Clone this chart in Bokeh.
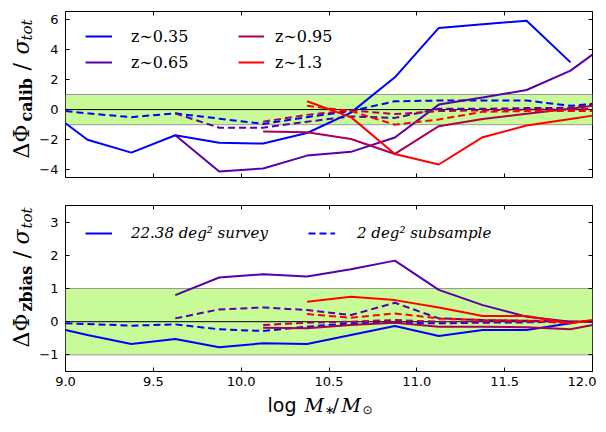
import math
from bokeh.plotting import figure
from bokeh.models import (BoxAnnotation, Span, Label, Legend, LegendItem, LinearAxis,
                          FixedTicker, Range1d, PrintfTickFormatter, CustomLabelingPolicy)
from bokeh.layouts import column, row
from bokeh.embed import file_html
from bokeh.resources import INLINE

# ---------------- data ----------------
mass_bins = [9.0, 9.125, 9.375, 9.625, 9.875, 10.125, 10.375, 10.625, 10.875,
             11.125, 11.375, 11.625, 11.875, 12.0]

x_all = mass_bins
x_035_solid = mass_bins[:13]
x_065 = mass_bins[3:]
x_095 = mass_bins[5:]
x_130 = mass_bins[6:]

# top panel: calibration
calib_035_full = [-0.9, -2.0, -2.85, -1.7, -2.2, -2.25, -1.55, -0.2, 2.14, 5.41, 5.65, 5.89, 3.13]
calib_035_sub = [-0.1, -0.25, -0.5, -0.25, -0.6, -0.95, -0.5, -0.1, 0.55, 0.6, 0.6, 0.6, 0.25, 0.38]
calib_065_full = [-1.7, -4.1, -3.9, -3.05, -2.8, -1.85, 0.33, 0.8, 1.3, 2.58, 3.64]
calib_065_sub = [-0.25, -1.2, -1.2, -0.8, -0.45, -0.55, 0.05, 0.05, 0.1, 0.12, 0.35]
calib_095_full = [-1.46, -1.5, -1.95, -2.94, -1.1, -0.62, -0.27, 0.05, 0.25]
calib_095_sub = [-0.8, -0.35, -0.05, -0.3, -0.1, -0.05, 0.0, 0.0, 0.05]
calib_130_full = [0.55, -0.5, -2.94, -3.64, -1.83, -1.06, -0.62, -0.4]
calib_130_sub = [0.25, -0.1, -1.0, -0.65, -0.15, -0.1, -0.1, -0.1]

# bottom panel: redshift bias
zbias_035_full = [-0.25, -0.4, -0.67, -0.52, -0.77, -0.65, -0.67, -0.4, -0.13, -0.43, -0.25, -0.25, -0.05]
zbias_035_sub = [-0.05, -0.07, -0.12, -0.08, -0.23, -0.28, -0.15, -0.05, -0.03, -0.05, -0.03, -0.02, 0.0, 0.0]
zbias_065_full = [0.8, 1.33, 1.43, 1.36, 1.58, 1.84, 0.96, 0.5, 0.15, 0.0, 0.0]
zbias_065_sub = [0.1, 0.37, 0.43, 0.35, 0.2, 0.57, 0.1, 0.05, 0.03, 0.0, 0.0]
zbias_095_full = [-0.18, -0.2, -0.1, -0.03, -0.15, -0.15, -0.17, -0.23, -0.1]
zbias_095_sub = [-0.1, -0.03, 0.0, 0.05, 0.0, 0.0, 0.0, 0.0, 0.0]
zbias_130_full = [0.6, 0.75, 0.65, 0.43, 0.17, 0.17, -0.05, 0.05]
zbias_130_sub = [0.23, 0.12, 0.25, 0.1, 0.05, 0.03, -0.05, 0.05]

z_labels = ["z∼0.35", "z∼0.65", "z∼0.95", "z∼1.3"]
survey_labels = ["22.38 deg² survey", "2 deg² subsample"]
x_ticks = [9.0, 9.5, 10.0, 10.5, 11.0, 11.5, 12.0]
top_yticks = [-4, -2, 0, 2, 4, 6]
bot_yticks = [-1, 0, 1, 2, 3]

colors = ["#0000ff", "#5500aa", "#aa0055", "#ff0000"]
BAND = "#c8fa98"
DASH = "7 4"
TICKFONT = "DejaVu Sans"
SERIF = "DejaVu Serif"

HIDE_CODE = "for (const i of indices) { indices.unset(i) }\nreturn indices"


def hidden_axis(ax):
    ax.major_label_policy = CustomLabelingPolicy(code=HIDE_CODE)
    ax.major_label_text_font_size = "1px"
    ax.major_label_standoff = 0
    ax.axis_label = None
    ax.axis_label_standoff = 0


def make_fig(yr, yticks, show_xlabels, b_top, b_bottom):
    p = figure(frame_width=527, frame_height=166, title=None,
               x_range=Range1d(9.0, 12.0), y_range=Range1d(*yr),
               output_backend="svg", toolbar_location=None,
               min_border_left=24, min_border_right=3,
               min_border_top=b_top, min_border_bottom=b_bottom,
               background_fill_color="white", border_fill_color="white")
    p.grid.visible = False
    p.outline_line_color = "black"
    p.outline_line_width = 1
    p.outline_line_alpha = 1

    for ax in p.xaxis:
        ax.ticker = FixedTicker(ticks=x_ticks)
        ax.formatter = PrintfTickFormatter(format="%.1f")
    for ax in p.yaxis:
        ax.ticker = FixedTicker(ticks=yticks)

    for ax in list(p.xaxis) + list(p.yaxis):
        ax.axis_line_color = None
        ax.major_tick_in = 4
        ax.major_tick_out = 0
        ax.minor_tick_line_color = None
        ax.major_tick_line_color = "black"
        ax.major_label_text_font = TICKFONT
        ax.major_label_text_font_size = "13px"
        ax.major_label_text_color = "black"
        ax.axis_label = None
        ax.axis_label_standoff = 0
    p.yaxis.major_label_standoff = 7
    p.xaxis.major_label_standoff = 5
    if not show_xlabels:
        for ax in p.xaxis:
            hidden_axis(ax)

    top_ax = LinearAxis(ticker=FixedTicker(ticks=x_ticks), axis_line_color=None,
                        major_tick_in=4, major_tick_out=0, minor_tick_line_color=None)
    right_ax = LinearAxis(ticker=FixedTicker(ticks=yticks), axis_line_color=None,
                          major_tick_in=4, major_tick_out=0, minor_tick_line_color=None)
    hidden_axis(top_ax)
    hidden_axis(right_ax)
    p.add_layout(top_ax, "above")
    p.add_layout(right_ax, "right")

    p.add_layout(BoxAnnotation(bottom=-1, top=1, fill_color=BAND, fill_alpha=1,
                               line_color=None, level="underlay"))
    p.add_layout(Span(location=1, dimension="width", line_color="#999999",
                      line_width=1, level="underlay"))
    p.add_layout(Span(location=-1, dimension="width", line_color="#999999",
                      line_width=1, level="underlay"))
    p.add_layout(Span(location=0, dimension="width", line_color="black",
                      line_width=1, level="underlay"))
    return p


def text_fig(w, h):
    f = figure(width=w, height=h, title=None, x_axis_type=None, y_axis_type=None,
               output_backend="svg", toolbar_location=None, min_border=0,
               min_border_left=0, min_border_right=0, min_border_top=0, min_border_bottom=0,
               outline_line_color=None, background_fill_color="white",
               border_fill_color="white", x_range=Range1d(0, 1), y_range=Range1d(0, 1))
    f.grid.visible = False
    return f


def lbl(p, text, sx, sy, size, font=SERIF, style="normal", angle=0.0):
    # (sx, sy) is the middle of the text line (text_baseline="middle")
    p.add_layout(Label(x=sx, y=sy, x_units="screen", y_units="screen", text=text,
                       angle=angle, text_font=font, text_font_size=f"{size}px",
                       text_font_style=style, text_align="left",
                       text_baseline="middle", text_color="black"))


def ylabel(p, sub, base_sx, sub_sx, sys):
    a = math.pi / 2
    lbl(p, "ΔΦ", base_sx, sys[0], 22, angle=a)
    lbl(p, sub, sub_sx, sys[1], 16, style="bold", angle=a)
    lbl(p, "/", base_sx, sys[2], 22, angle=a)
    lbl(p, "σ", base_sx, sys[3], 22, style="italic", angle=a)
    lbl(p, "tot", sub_sx, sys[4], 15, style="italic", angle=a)


def make_legend(p, items, vx, vy, gw, standoff, style, size):
    leg = Legend(items=items, location=(vx, vy), padding=0, spacing=0,
                 glyph_width=gw, glyph_height=26, label_height=26,
                 label_standoff=standoff, border_line_color=None,
                 background_fill_alpha=0, label_text_font=SERIF,
                 label_text_font_size=size, label_text_font_style=style,
                 label_text_color="black", margin=0)
    p.add_layout(leg)


# ---------------- top panel ----------------
p1 = make_fig((-4.5, 6.5), top_yticks, False, 11, 14)
top_series = [(x_035_solid, calib_035_full, x_all, calib_035_sub),
              (x_065, calib_065_full, x_065, calib_065_sub),
              (x_095, calib_095_full, x_095, calib_095_sub),
              (x_130, calib_130_full, x_130, calib_130_sub)]
solid_r = []
for (xs, ys, xd, yd), c in zip(top_series, colors):
    r = p1.line(xs, ys, line_color=c, line_width=2)
    p1.line(xd, yd, line_color=c, line_width=2, line_dash=DASH)
    solid_r.append(r)

make_legend(p1, [LegendItem(label=z_labels[0], renderers=[solid_r[0]]),
                 LegendItem(label=z_labels[1], renderers=[solid_r[1]])],
            20, 102, 27, 19, "normal", "16px")
make_legend(p1, [LegendItem(label=z_labels[2], renderers=[solid_r[2]]),
                 LegendItem(label=z_labels[3], renderers=[solid_r[3]])],
            173, 102, 26, 11, "normal", "16px")

# y label figure: its frame is aligned with p1's frame (bottom at 177 px)
yl1 = text_fig(36, 191)
ylabel(yl1, "calib", 20.5, 26, [19, 56, 107, 123, 137])

# ---------------- bottom panel ----------------
p2 = make_fig((-1.5, 3.5), bot_yticks, True, 14, 21)
bot_series = [(x_035_solid, zbias_035_full, x_all, zbias_035_sub),
              (x_065, zbias_065_full, x_065, zbias_065_sub),
              (x_095, zbias_095_full, x_095, zbias_095_sub),
              (x_130, zbias_130_full, x_130, zbias_130_sub)]
first_solid = first_dash = None
for (xs, ys, xd, yd), c in zip(bot_series, colors):
    r = p2.line(xs, ys, line_color=c, line_width=2)
    rd = p2.line(xd, yd, line_color=c, line_width=2, line_dash=DASH)
    if first_solid is None:
        first_solid, first_dash = r, rd

make_legend(p2, [LegendItem(label=survey_labels[0], renderers=[first_solid])],
            20, 125, 27, 19, "italic", "15px")
make_legend(p2, [LegendItem(label=survey_labels[1], renderers=[first_dash])],
            243, 125, 27, 22, "italic", "15px")

# frame aligned with p2's frame (bottom at 371 px)
yl2 = text_fig(36, 201)
ylabel(yl2, "zbias", 20.5, 26, [24, 60, 113, 127, 143])

# ---------------- x label: log M_*/M_sun ----------------
xl = text_fig(590, 24)
lbl(xl, "log", 267, 12, 19, font="DejaVu Sans")
lbl(xl, "M", 304, 12, 19, style="italic")
lbl(xl, "∗", 324, 7, 12, font="DejaVu Sans")
lbl(xl, "/", 332, 12, 19)
lbl(xl, "M", 341, 12, 19, style="italic")
lbl(xl, "⊙", 362, 7, 12, font="DejaVu Sans")

layout = column(row(yl1, p1, spacing=0), row(yl2, p2, spacing=0), xl, spacing=0)
open("out.html", "w").write(file_html(layout, INLINE))
